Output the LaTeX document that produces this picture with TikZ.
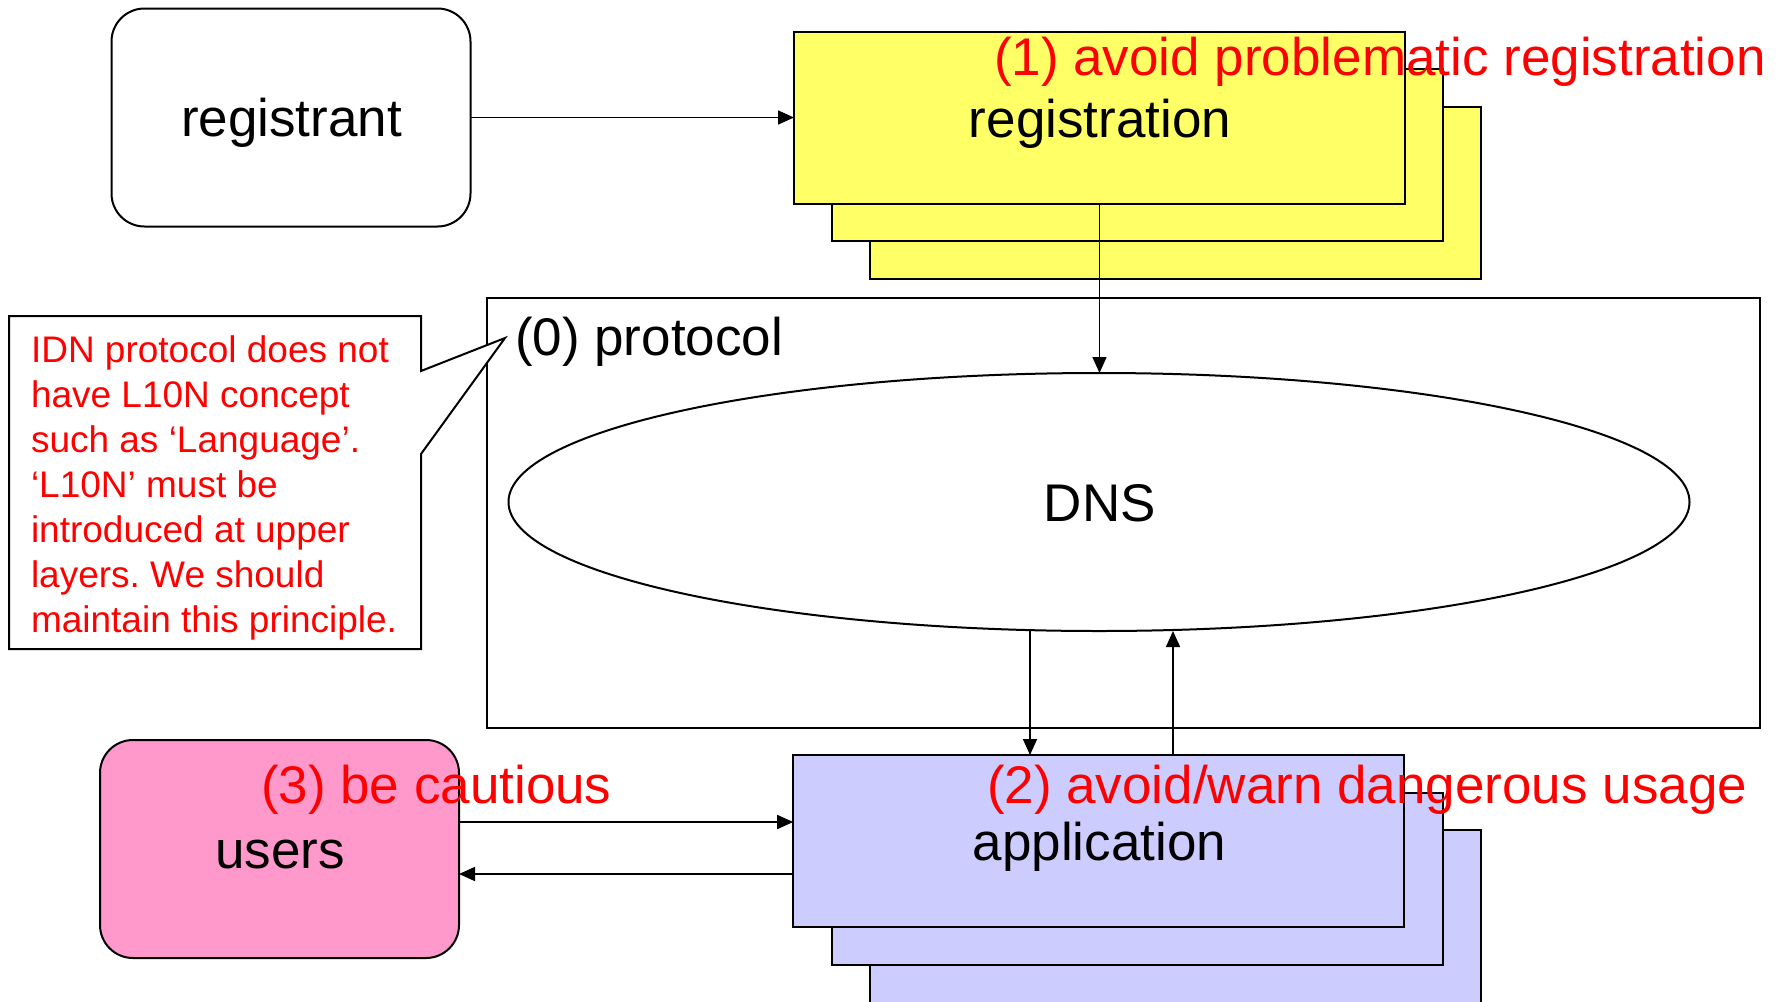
\documentclass[tikz,border=0pt]{standalone}
\usepackage{fontspec}
\setmainfont{Liberation Sans}
\usepackage{xcolor}
\usepackage{tikz}
\usetikzlibrary{arrows.meta,shapes.geometric,calc}

\definecolor{regyellow}{HTML}{FFFF66}
\definecolor{applilac}{HTML}{CCCCFF}
\definecolor{userpink}{HTML}{FF99CC}

\frenchspacing

\begin{document}
\begin{tikzpicture}[x=1pt,y=1pt,yscale=-1,xscale=1,line width=2pt,
  every node/.style={inner sep=0pt,outer sep=0pt},
  bigtext/.style={font=\fontsize{53}{64}\selectfont},
  redtext/.style={bigtext,text=red},
  layerbox/.style={draw,rectangle,minimum width=611pt,minimum height=172pt},
  actorbox/.style={draw,rectangle,rounded corners=33pt,minimum width=359pt,minimum height=218pt},
  arr/.style={-{Triangle[length=16pt,width=14pt]},line width=1.6pt}]

\clip (0,0) rectangle (1784,1001);

% registrant and registration stack
\node[actorbox] (registrant) at (291,117.5) {};

\node[layerbox,fill=regyellow] (reg3) at (1175,192.8) {};

\node[layerbox,fill=regyellow] (reg2) at (1137,155.2) {};

\node[layerbox,fill=regyellow] (reg) at (1099.5,117.5) {};

% protocol layer
\node[draw,rectangle,minimum width=1273pt,minimum height=430pt] (protocol) at (1123,513) {};

\node[draw,ellipse,minimum width=1181pt,minimum height=258pt] (dns) at (1099,502) {};

% callout
\coordinate (tip) at (505,338);

\draw[fill=white] (9,316) -- (421,316) -- (421,371) -- (tip) -- (421,454) -- (421,649) -- (9,649) -- cycle ;

% application stack and users
\node[layerbox,fill=applilac,minimum height=200pt] (app3) at (1175.5,930) {};

\node[layerbox,fill=applilac] (app2) at (1137.5,878.7) {};

\node[layerbox,fill=applilac] (app) at (1098.7,841) {};

\node[actorbox,fill=userpink] (users) at (279.5,849) {};

% connectors
\draw[arr] (registrant.east) -- (reg.west);

\draw[arr] (reg.south) -- (reg.south |- dns.north);

\coordinate (dnsdown) at ($(dns.south)+(-69,0)$);
\coordinate (dnsup) at ($(dns.south)+(74,0)$);

\draw[arr] (dnsdown) -- (dnsdown |- app.north);

\draw[arr] (dnsup |- app.north) -- (dnsup);

\coordinate (userout) at ($(users.east)+(0,-27)$);
\coordinate (userin) at ($(users.east)+(0,25)$);

\draw[arr] (userout) -- (userout -| app.west);

\draw[arr] (userin -| app.west) -- (userin);

% texts
\node[bigtext,anchor=base] (registranttxt) at (291.5,136.7) {registrant};

\node[bigtext,anchor=base] (regtxt) at (1100,137) {registration};

\node[bigtext,anchor=base west] (protocoltxt) at (515,355) {(0) protocol};

\node[bigtext,anchor=base] (dnstxt) at (1099.7,521.7) {DNS};

\node[bigtext,anchor=base] (apptxt) at (1099.5,860) {application};

\node[bigtext,anchor=base] (userstxt) at (280,868) {users};

\node[anchor=north west,align=left,text=red,font=\fontsize{37}{45}\selectfont] (notetxt) at (31,336) {IDN protocol does not\\have L10N concept\\such as ‘Language’.\\‘L10N’ must be\\introduced at upper\\layers. We should\\maintain this principle.};

\node[redtext,anchor=base west] (regnote) at (994,75) {(1) avoid problematic registration};

\node[redtext,anchor=base west] (appnote) at (987,803) {(2) avoid/warn dangerous usage};

\node[redtext,anchor=base west] (usersnote) at (261,803) {(3) be cautious};

\end{tikzpicture}
\end{document}
